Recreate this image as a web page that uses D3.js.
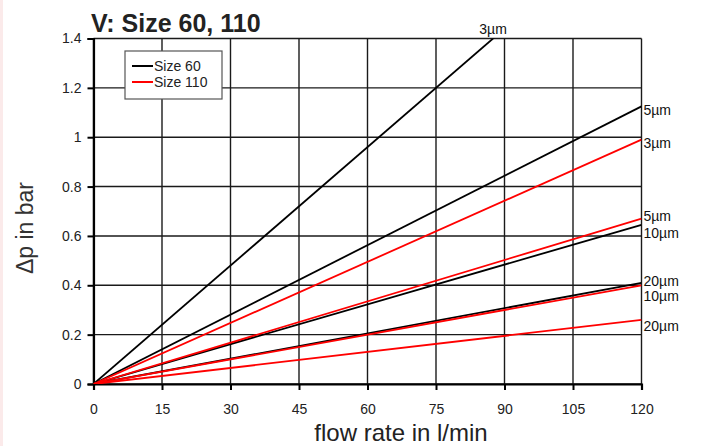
<!DOCTYPE html>
<html>
<head>
<meta charset="utf-8">
<script src="https://d3js.org/d3.v7.min.js"></script>
<style>
  body { margin: 0; background: #fff; }
  svg { display: block; font-family: "Liberation Sans", Arial, sans-serif; }
</style>
</head>
<body>
<div id="chart"></div>
<script>
// data: pressure drop (bar) at 120 l/min, lines go through the origin
const filters = ["3µm", "5µm", "10µm", "20µm"];
const size60 = [1.92, 1.125, 0.645, 0.41];
const size110 = [0.99, 0.67, 0.40, 0.26];
const xTicks = [0, 15, 30, 45, 60, 75, 90, 105, 120];
const yTicks = [0, 0.2, 0.4, 0.6, 0.8, 1, 1.2, 1.4];
const xMax = 120;

// label nudges (px) for the end-of-line labels, so they don't overlap
const nudge60 = [0, 4, 8, -2];
const nudge110 = [3, -3, 11, 6];

const W = 701, H = 446;
const margin = {top: 38.5, right: 60, bottom: 62, left: 93.5};

const svg = d3.select("#chart").append("svg")
    .attr("width", W)
    .attr("height", H);

// faint strip on the left edge of the original scan
svg.append("rect").attr("x", 0).attr("y", 0).attr("width", 3).attr("height", H).attr("fill", "#fbeaea");

const x = d3.scaleLinear().domain([0, xMax]).range([margin.left, 641.5]);
const y = d3.scaleLinear().domain([0, 1.4]).range([384, margin.top]);

// grid
svg.append("g")
    .selectAll("line.v")
    .data(xTicks)
    .join("line")
    .attr("x1", d => x(d)).attr("x2", d => x(d))
    .attr("y1", y(0)).attr("y2", y(1.4))
    .attr("stroke", "#1a1a1a")
    .attr("stroke-width", 1.4);

svg.append("g")
    .selectAll("line.h")
    .data(yTicks)
    .join("line")
    .attr("x1", x(0)).attr("x2", x(xMax))
    .attr("y1", d => y(d)).attr("y2", d => y(d))
    .attr("stroke", "#1a1a1a")
    .attr("stroke-width", 1.4);

// axes
const xAxis = svg.append("g")
    .attr("transform", `translate(0,${y(0)})`)
    .call(d3.axisBottom(x).tickValues(xTicks).tickSize(6).tickPadding(14).tickFormat(d3.format("d")));
const yAxis = svg.append("g")
    .attr("transform", `translate(${x(0)},0)`)
    .call(d3.axisLeft(y).tickValues(yTicks).tickSize(6).tickPadding(6).tickFormat(d => d === 0 ? "0" : d3.format("")(d)));

[xAxis, yAxis].forEach(a => {
    a.select(".domain").attr("stroke", "#000").attr("stroke-width", 2.2);
    a.selectAll(".tick line").attr("stroke", "#000").attr("stroke-width", 2);
    a.selectAll(".tick text").attr("fill", "#222").style("font-size", "14px");
});

// clip for the lines
svg.append("clipPath").attr("id", "plot")
    .append("rect")
    .attr("x", x(0)).attr("y", y(1.4))
    .attr("width", x(xMax) - x(0)).attr("height", y(0) - y(1.4));

const line = d3.line().x(d => x(d[0])).y(d => y(d[1]));

function drawSeries(vals, color, nudges) {
    const g = svg.append("g");
    g.selectAll("path")
        .data(vals)
        .join("path")
        .attr("clip-path", "url(#plot)")
        .attr("d", v => line([[0, 0], [xMax, v]]))
        .attr("fill", "none")
        .attr("stroke", color)
        .attr("stroke-width", 1.8);

    g.selectAll("text")
        .data(vals)
        .join("text")
        .each(function (v, i) {
            const t = d3.select(this);
            if (v > 1.4) {
                // line leaves through the top: label above the crossing
                const xc = 1.4 / v * xMax;
                t.attr("x", x(xc)).attr("y", y(1.4) - 5).attr("text-anchor", "middle");
            } else {
                t.attr("x", x(xMax) + 2).attr("y", y(v) + 5 + nudges[i]);
            }
        })
        .attr("fill", "#111")
        .style("font-size", "14px")
        .text((v, i) => filters[i]);
}

drawSeries(size60, "#000", nudge60);
drawSeries(size110, "#ff0000", nudge110);

// title
svg.append("text")
    .attr("x", 91).attr("y", 32)
    .attr("fill", "#222")
    .style("font-size", "25px")
    .style("font-weight", "bold")
    .text("V: Size 60, 110");

// legend
const legend = svg.append("g").attr("transform", "translate(125,51)");
legend.append("rect")
    .attr("width", 97).attr("height", 48)
    .attr("fill", "#fff").attr("stroke", "#555").attr("stroke-width", 1.2);
const legendItems = [["Size 60", "#000"], ["Size 110", "#ff0000"]];
legendItems.forEach((d, i) => {
    legend.append("line")
        .attr("x1", 7).attr("x2", 28)
        .attr("y1", 15 + i * 16).attr("y2", 15 + i * 16)
        .attr("stroke", d[1]).attr("stroke-width", 2);
    legend.append("text")
        .attr("x", 29).attr("y", 20 + i * 16)
        .attr("fill", "#222")
        .style("font-size", "14px")
        .text(d[0]);
});

// axis titles
svg.append("text")
    .attr("transform", "translate(33,228) rotate(-90)")
    .attr("text-anchor", "middle")
    .attr("fill", "#333")
    .style("font-size", "23px")
    .text("Δp in bar");

svg.append("text")
    .attr("x", 401).attr("y", 441)
    .attr("text-anchor", "middle")
    .attr("fill", "#222")
    .style("font-size", "24px")
    .text("flow rate in l/min");
</script>
</body>
</html>
